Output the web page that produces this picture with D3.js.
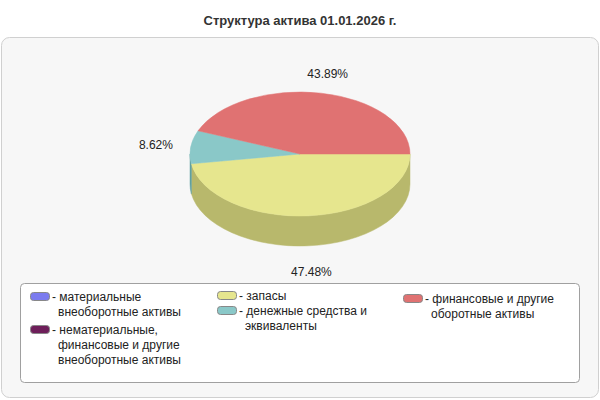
<!DOCTYPE html>
<html><head><meta charset="utf-8">
<script src="https://cdn.jsdelivr.net/npm/d3@7"></script>
<style>body{margin:0;background:#fff}text{font-family:"Liberation Sans",Arial,sans-serif}</style>
</head><body>
<svg width="600" height="400"></svg>
<script>
const categories = ["материальные внеоборотные активы", "нематериальные, финансовые и другие внеоборотные активы", "запасы", "денежные средства и эквиваленты", "финансовые и другие оборотные активы"]
const values = [0, 0, 47.48, 8.62, 43.89]
const colors = ["#7b7bef", "#6e1e5a", "#e6e68e", "#8ac8c8", "#e07272"]
const sideColors = ["#5858b0", "#4a1440", "#b8b86c", "#62a0a0", "#b05050"]
const legendLines = [["материальные", "внеоборотные активы"], ["нематериальные,", "финансовые и другие", "внеоборотные активы"], ["запасы"], ["денежные средства и", "эквиваленты"], ["финансовые и другие", "оборотные активы"]]

const svg = d3.select("svg")
svg.append("text").attr("x", 300).attr("y", 25).attr("text-anchor", "middle")
	.attr("font-size", 13).attr("font-weight", "bold").attr("fill", "#333").text("Структура актива 01.01.2026 г.")
svg.append("rect").attr("x", 1.5).attr("y", 37.5).attr("width", 597).attr("height", 360).attr("rx", 8)
	.attr("fill", "#f7f7f7").attr("stroke", "#d0d0d0")

const cx = 300, cy = 154, rx = 110, ry = 62, depth = 30
const pie = d3.pie().sort(null).startAngle(Math.PI / 2).endAngle(Math.PI / 2 + 2 * Math.PI)
const arcs = pie(values).map((d, i) => ({ ...d, i })).filter(d => d.value > 0)
const pt = (t, dy = 0) => [cx + rx * Math.cos(t), cy + ry * Math.sin(t) + dy]

const g = svg.append("g")
// side walls (front half only)
arcs.forEach(d => {
	const t0 = Math.max(d.startAngle - Math.PI / 2, 0), t1 = Math.min(d.endAngle - Math.PI / 2, Math.PI)
	if (t1 <= t0) return
	const a = pt(t0), b = pt(t1), c = pt(t1, depth), e = pt(t0, depth)
	g.append("path").attr("fill", sideColors[d.i]).attr("stroke", sideColors[d.i]).attr("stroke-width", 0.5)
		.attr("d", `M${a}A${rx},${ry} 0 0 1 ${b}L${c}A${rx},${ry} 0 0 0 ${e}Z`)
})
// tops
arcs.forEach(d => {
	const t0 = d.startAngle - Math.PI / 2, t1 = d.endAngle - Math.PI / 2
	const large = t1 - t0 > Math.PI ? 1 : 0
	g.append("path").attr("fill", colors[d.i]).attr("stroke", colors[d.i]).attr("stroke-width", 0.5)
		.attr("d", `M${cx},${cy}L${pt(t0)}A${rx},${ry} 0 ${large} 1 ${pt(t1)}Z`)
})
// labels
arcs.forEach(d => {
	const t = (d.startAngle + d.endAngle) / 2 - Math.PI / 2
	const front = Math.sin(t) > 0
	const x = cx + (rx + 35) * Math.cos(t), y = cy + (ry + 20) * Math.sin(t) + (front ? depth + 6 : 0)
	svg.append("text").attr("x", x).attr("y", y).attr("text-anchor", "middle").attr("dy", "0.35em")
		.attr("font-size", 12).attr("fill", "#222").text(d.value.toFixed(2) + "%")
})

// legend
svg.append("rect").attr("x", 20.5).attr("y", 283.5).attr("width", 559).attr("height", 99).attr("rx", 4)
	.attr("fill", "#fff").attr("stroke", "#a0a0a0")
const pos = [[30, 297], [30, 330], [217, 296], [217, 311], [403, 299]]
categories.forEach((c, i) => {
	const [x, y] = pos[i]
	svg.append("rect").attr("x", x + 0.5).attr("y", y - 4.5).attr("width", 19).attr("height", 8).attr("rx", 3)
		.attr("fill", colors[i]).attr("stroke", "#888")
	const t = svg.append("text").attr("x", x + 22).attr("y", y + 4).attr("font-size", 12).attr("fill", "#222")
	legendLines[i].forEach((l, j) => t.append("tspan").attr("x", j ? x + 28 : x + 22).attr("dy", j ? 15 : 0)
		.text((j ? "" : "- ") + l))
})
</script>
</body></html>
